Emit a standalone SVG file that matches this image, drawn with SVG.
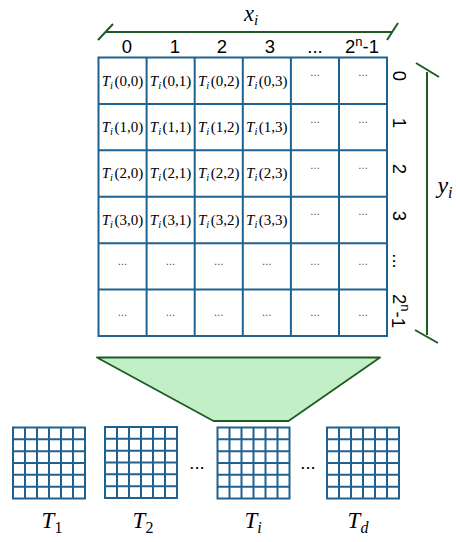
<svg xmlns="http://www.w3.org/2000/svg" width="456" height="542" viewBox="0 0 456 542">
<style>
.grid{fill:#fff;stroke:#1f6290;stroke-width:2}
.gl{stroke:#1f6290;stroke-width:2;fill:none}
.br{stroke:#1e5b24;stroke-width:2;fill:none}
.lab{font-family:"Liberation Sans",Arial,sans-serif;font-size:18.5px;fill:#000}
.cell{font-family:"Liberation Serif","Times New Roman",serif;font-size:15px;fill:#000;text-anchor:middle}
.it{font-style:italic}
.dots{font-family:"Liberation Sans",Arial,sans-serif;font-size:10px;fill:#333;text-anchor:middle}
.math{font-family:"Liberation Serif","Times New Roman",serif;font-style:italic;fill:#000}
</style>
<defs>
<g id="small">
<rect x="0" y="0" width="72" height="71" class="grid"/>
<path class="gl" d="M12 0V71M24 0V71M36 0V71M48 0V71M60 0V71M0 11.8H72M0 23.7H72M0 35.5H72M0 47.3H72M0 59.2H72"/>
</g>
</defs>

<g id="x-axis">
<path class="br" d="M98 40L113 24M105.5 32H392M387 40L398 23"/>
<text class="math" x="251" y="20.5" font-size="22.5" text-anchor="middle">x<tspan font-size="15" dy="4">i</tspan></text>
<g class="lab" text-anchor="middle">
<text x="127" y="53">0</text>
<text x="175" y="53">1</text>
<text x="222" y="53">2</text>
<text x="270" y="53">3</text>
<text x="315" y="53">...</text>
<text x="362" y="53">2<tspan font-size="13" dy="-7">n</tspan><tspan dy="7">-1</tspan></text>
</g>
</g>

<g id="y-axis">
<path class="br" d="M416 63L439 77M427 72V335M415 330L438 343"/>
<text class="math" x="445" y="193" font-size="24" text-anchor="middle">y<tspan font-size="16" dy="5">i</tspan></text>
<g class="lab" text-anchor="middle" dominant-baseline="central">
<text transform="translate(399,76) rotate(90)">0</text>
<text transform="translate(399,123) rotate(90)">1</text>
<text transform="translate(399,169) rotate(90)">2</text>
<text transform="translate(399,216) rotate(90)">3</text>
<text transform="translate(399,261) rotate(90)">...</text>
<text transform="translate(399,311) rotate(90)">2<tspan font-size="13" dy="-7">n</tspan><tspan dy="7">-1</tspan></text>
</g>
</g>

<g id="matrix">
<rect x="98.5" y="57.5" width="288.5" height="278.5" class="grid"/>
<path class="gl" d="M146.6 57.5V336M194.7 57.5V336M242.8 57.5V336M290.9 57.5V336M339 57.5V336M98.5 103.9H387M98.5 150.3H387M98.5 196.7H387M98.5 243.2H387M98.5 289.6H387"/>
<g class="cell">
<text x="122.5" y="85.5"><tspan class="it">T</tspan><tspan class="it" font-size="10.5" dy="3">i</tspan><tspan dx="1.5" dy="-3">(0,0)</tspan></text>
<text x="170.6" y="85.5"><tspan class="it">T</tspan><tspan class="it" font-size="10.5" dy="3">i</tspan><tspan dx="1.5" dy="-3">(0,1)</tspan></text>
<text x="218.7" y="85.5"><tspan class="it">T</tspan><tspan class="it" font-size="10.5" dy="3">i</tspan><tspan dx="1.5" dy="-3">(0,2)</tspan></text>
<text x="266.8" y="85.5"><tspan class="it">T</tspan><tspan class="it" font-size="10.5" dy="3">i</tspan><tspan dx="1.5" dy="-3">(0,3)</tspan></text>
<text x="122.5" y="132"><tspan class="it">T</tspan><tspan class="it" font-size="10.5" dy="3">i</tspan><tspan dx="1.5" dy="-3">(1,0)</tspan></text>
<text x="170.6" y="132"><tspan class="it">T</tspan><tspan class="it" font-size="10.5" dy="3">i</tspan><tspan dx="1.5" dy="-3">(1,1)</tspan></text>
<text x="218.7" y="132"><tspan class="it">T</tspan><tspan class="it" font-size="10.5" dy="3">i</tspan><tspan dx="1.5" dy="-3">(1,2)</tspan></text>
<text x="266.8" y="132"><tspan class="it">T</tspan><tspan class="it" font-size="10.5" dy="3">i</tspan><tspan dx="1.5" dy="-3">(1,3)</tspan></text>
<text x="122.5" y="178.4"><tspan class="it">T</tspan><tspan class="it" font-size="10.5" dy="3">i</tspan><tspan dx="1.5" dy="-3">(2,0)</tspan></text>
<text x="170.6" y="178.4"><tspan class="it">T</tspan><tspan class="it" font-size="10.5" dy="3">i</tspan><tspan dx="1.5" dy="-3">(2,1)</tspan></text>
<text x="218.7" y="178.4"><tspan class="it">T</tspan><tspan class="it" font-size="10.5" dy="3">i</tspan><tspan dx="1.5" dy="-3">(2,2)</tspan></text>
<text x="266.8" y="178.4"><tspan class="it">T</tspan><tspan class="it" font-size="10.5" dy="3">i</tspan><tspan dx="1.5" dy="-3">(2,3)</tspan></text>
<text x="122.5" y="224.8"><tspan class="it">T</tspan><tspan class="it" font-size="10.5" dy="3">i</tspan><tspan dx="1.5" dy="-3">(3,0)</tspan></text>
<text x="170.6" y="224.8"><tspan class="it">T</tspan><tspan class="it" font-size="10.5" dy="3">i</tspan><tspan dx="1.5" dy="-3">(3,1)</tspan></text>
<text x="218.7" y="224.8"><tspan class="it">T</tspan><tspan class="it" font-size="10.5" dy="3">i</tspan><tspan dx="1.5" dy="-3">(3,2)</tspan></text>
<text x="266.8" y="224.8"><tspan class="it">T</tspan><tspan class="it" font-size="10.5" dy="3">i</tspan><tspan dx="1.5" dy="-3">(3,3)</tspan></text>
</g>
<g class="dots">
<text x="315" y="76">…</text><text x="363" y="76">…</text>
<text x="315" y="123">…</text><text x="363" y="123">…</text>
<text x="315" y="169">…</text><text x="363" y="169">…</text>
<text x="315" y="215">…</text><text x="363" y="215">…</text>
<text x="122.5" y="265">…</text><text x="170.6" y="265">…</text><text x="218.7" y="265">…</text><text x="266.8" y="265">…</text><text x="315" y="265">…</text><text x="363" y="265">…</text>
<text x="122.5" y="316">…</text><text x="170.6" y="316">…</text><text x="218.7" y="316">…</text><text x="266.8" y="316">…</text><text x="315" y="316">…</text><text x="363" y="316">…</text>
</g>
</g>

<g id="funnel">
<path d="M97 357.5H380L288.5 421H213.5Z" fill="#c3efc6" stroke="#1e5b24" stroke-width="1.8" stroke-linejoin="round"/>
</g>

<g id="T1"><use href="#small" x="13" y="427.5"/><text class="math" x="52" y="528" font-size="23" text-anchor="middle">T<tspan font-size="16" dy="5" font-style="normal">1</tspan></text></g>
<g id="T2"><use href="#small" x="105" y="427"/><text class="math" x="143" y="528" font-size="23" text-anchor="middle">T<tspan font-size="16" dy="5" font-style="normal">2</tspan></text></g>
<g id="Ti"><use href="#small" x="217.5" y="427.5"/><text class="math" x="253" y="528" font-size="23" text-anchor="middle">T<tspan font-size="16" dy="5">i</tspan></text></g>
<g id="Td"><use href="#small" x="327" y="427.5"/><text class="math" x="358" y="528" font-size="23" text-anchor="middle">T<tspan font-size="16" dy="5">d</tspan></text></g>
<g class="lab" font-size="14" text-anchor="middle">
<text x="197" y="469">...</text>
<text x="308" y="469">...</text>
</g>
</svg>
